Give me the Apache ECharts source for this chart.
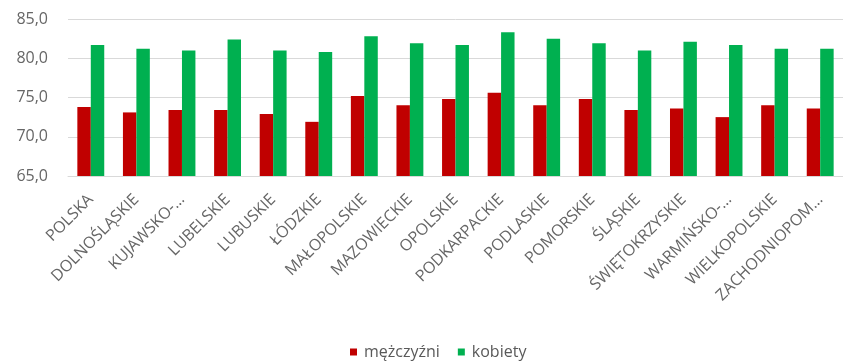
<!DOCTYPE html>
<html>
<head>
<meta charset="utf-8">
<script src="https://cdn.jsdelivr.net/npm/echarts@6/dist/echarts.min.js"></script>
<style>
html,body{margin:0;padding:0;background:#fff;}
#chart{width:843px;height:363px;}
</style>
</head>
<body>
<div id="chart"></div>
<script>
const categories = ["POLSKA","DOLNOŚLĄSKIE","KUJAWSKO-…","LUBELSKIE","LUBUSKIE","ŁÓDZKIE","MAŁOPOLSKIE","MAZOWIECKIE","OPOLSKIE","PODKARPACKIE","PODLASKIE","POMORSKIE","ŚLĄSKIE","ŚWIĘTOKRZYSKIE","WARMIŃSKO-…","WIELKOPOLSKIE","ZACHODNIOPOM…"];
const men   = [73.8,73.1,73.4,73.4,72.9,71.9,75.2,74.0,74.8,75.6,74.0,74.8,73.4,73.6,72.5,74.0,73.6];
const women = [81.7,81.2,81.0,82.4,81.0,80.8,82.8,81.9,81.7,83.3,82.5,81.9,81.0,82.1,81.7,81.2,81.2];
const seriesNames = ["mężczyźni","kobiety"];
const yMin = 65, yMax = 85, yStep = 5;

const chart = echarts.init(document.getElementById('chart'), null, {renderer:'canvas'});
const font = "'Open Sans', 'DejaVu Sans', sans-serif";
chart.setOption({
  animation:false,
  textStyle:{fontFamily:font},
  grid:{left:68, right:-8, top:19, bottom:187, containLabel:false},
  legend:{
    data:seriesNames,
    top:339, left:345,
    itemWidth:7, itemHeight:7, itemGap:18,
    icon:'rect',
    textStyle:{color:'#595959', fontSize:16, fontFamily:font, padding:[0,0,0,2]}
  },
  xAxis:{
    type:'category',
    data:categories,
    axisLine:{show:true, lineStyle:{color:'#d9d9d9', width:1}},
    axisTick:{show:false},
    axisLabel:{rotate:45, color:'#666666', fontSize:16, margin:21, interval:0, fontFamily:font}
  },
  yAxis:{
    type:'value',
    min:yMin, max:yMax, interval:yStep,
    axisLine:{show:false},
    axisTick:{show:false},
    splitLine:{lineStyle:{color:'#d9d9d9', width:1}},
    axisLabel:{color:'#666666', fontSize:16, margin:20, fontFamily:font,
      formatter:v=>v.toFixed(1).replace('.',',')}
  },
  series:[
    {name:seriesNames[0], type:'bar', data:men, itemStyle:{color:'#C00000'}, barGap:'0%', barCategoryGap:'41%'},
    {name:seriesNames[1], type:'bar', data:women, itemStyle:{color:'#00B050'}, barGap:'0%', barCategoryGap:'41%'}
  ]
});
</script>
</body>
</html>
